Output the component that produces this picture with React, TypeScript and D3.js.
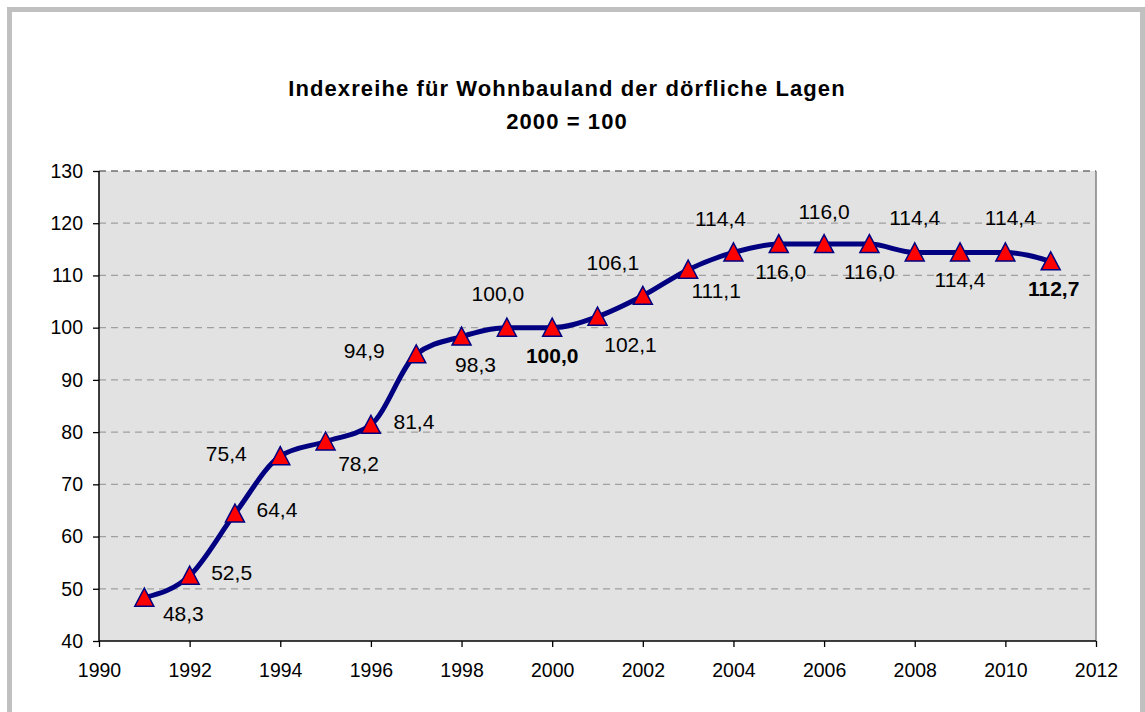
import { useEffect, useRef } from 'react';
import * as d3 from 'd3';

const years = [1991, 1992, 1993, 1994, 1995, 1996, 1997, 1998, 1999, 2000, 2001, 2002, 2003, 2004, 2005, 2006, 2007, 2008, 2009, 2010, 2011];
const indexValues = [48.3, 52.5, 64.4, 75.4, 78.2, 81.4, 94.9, 98.3, 100.0, 100.0, 102.1, 106.1, 111.1, 114.4, 116.0, 116.0, 116.0, 114.4, 114.4, 114.4, 112.7];
const boldLabels = [2000, 2011];
const xTicks = [1990, 1992, 1994, 1996, 1998, 2000, 2002, 2004, 2006, 2008, 2010, 2012];
const yTicks = [40, 50, 60, 70, 80, 90, 100, 110, 120, 130];
const titleLines = ['Indexreihe für Wohnbauland der dörfliche Lagen', '2000 = 100'];

// label placement relative to the marker (dx, dy in px), like the manual Excel layout
const labelOffsets: [number, number][] = [
  [39, 16], [42, -3], [42, -4], [-54, -3], [33, 22], [43, -3], [-52, -4], [14, 28], [-9, -34], [0, 28],
  [33, 28], [-30, -33], [28, 21], [-13, -34], [2, 27], [0, -33], [0, 27], [0, -35], [0, 27], [5, -35], [3, 27],
];

const fmt = (v: number) => v.toFixed(1).replace('.', ',');

export default function App() {
  const ref = useRef<SVGSVGElement>(null);

  useEffect(() => {
    if (!ref.current) return;
    const svg = d3.select(ref.current);
    svg.selectAll('*').remove();

    const width = 1145;
    const height = 712;
    const margin = { top: 171, right: 49, bottom: 71, left: 99 };
    const innerWidth = width - margin.left - margin.right;
    const innerHeight = height - margin.top - margin.bottom;
    const font = '"Liberation Sans", Arial, sans-serif';

    svg.append('rect').attr('width', width).attr('height', height).attr('fill', '#fff');
    svg.append('rect')
      .attr('x', 9.5).attr('y', 9.5)
      .attr('width', 1133).attr('height', 720)
      .attr('fill', 'none').attr('stroke', '#c0c0c0').attr('stroke-width', 5);

    // title
    svg.append('g').selectAll('text')
      .data(titleLines)
      .enter()
      .append('text')
      .attr('x', 567)
      .attr('y', (d, i) => 96 + i * 33)
      .attr('text-anchor', 'middle')
      .attr('font-family', font)
      .attr('font-weight', 'bold')
      .attr('font-size', 22)
      .attr('letter-spacing', 1.1)
      .attr('fill', '#000')
      .text(d => d);

    const x = d3.scaleLinear().domain([1990, 2012]).range([0, innerWidth]);
    const y = d3.scaleLinear().domain([40, 130]).range([innerHeight, 0]);

    const g = svg.append('g').attr('transform', `translate(${margin.left},${margin.top})`);

    g.append('rect').attr('width', innerWidth).attr('height', innerHeight).attr('fill', '#e2e2e2');
    g.append('line')
      .attr('x1', innerWidth).attr('x2', innerWidth)
      .attr('y1', 0).attr('y2', innerHeight)
      .attr('stroke', '#808080').attr('stroke-width', 1.5);

    // grid lines
    g.selectAll('.grid')
      .data(yTicks.filter(t => t > 40))
      .enter()
      .append('line')
      .attr('x1', 0).attr('x2', innerWidth)
      .attr('y1', d => y(d)).attr('y2', d => y(d))
      .attr('stroke', d => (d === 130 ? '#707070' : '#a0a0a0'))
      .attr('stroke-width', 1.3)
      .attr('stroke-dasharray', '7,5');

    // axes
    const yAxis = g.append('g')
      .call(d3.axisLeft(y).tickValues(yTicks).tickSize(6).tickPadding(10).tickFormat(d => `${d}`));
    const xAxis = g.append('g')
      .attr('transform', `translate(0,${innerHeight})`)
      .call(d3.axisBottom(x).tickValues(xTicks).tickSize(6).tickPadding(16).tickFormat(d => `${d}`));
    [yAxis, xAxis].forEach(a => {
      a.select('.domain').attr('stroke', '#000').attr('stroke-width', 1.5);
      a.selectAll('.tick line').attr('stroke', '#000').attr('stroke-width', 1.3);
      a.selectAll('.tick text')
        .attr('font-family', font)
        .attr('font-size', 19.5)
        .attr('fill', '#000');
    });
    xAxis.select('.domain').attr('d', `M0,0H${innerWidth}`);
    yAxis.select('.domain').attr('d', `M0,${innerHeight}V0`);

    const data = years.map((yr, i) => ({ year: yr, value: indexValues[i], off: labelOffsets[i] }));

    const line = d3.line<any>()
      .x(d => x(d.year))
      .y(d => y(d.value))
      .curve(d3.curveMonotoneX);

    g.append('path')
      .datum(data)
      .attr('fill', 'none')
      .attr('stroke', '#000080')
      .attr('stroke-width', 5)
      .attr('stroke-linejoin', 'round')
      .attr('d', line);

    // triangle markers
    g.selectAll('.marker')
      .data(data)
      .enter()
      .append('path')
      .attr('transform', d => `translate(${x(d.year)},${y(d.value)})`)
      .attr('d', 'M0,-9.5L9.5,8.5L-9.5,8.5Z')
      .attr('fill', '#ff0000')
      .attr('stroke', '#000080')
      .attr('stroke-width', 1.5)
      .attr('stroke-linejoin', 'miter');

    // data labels
    g.selectAll('.label')
      .data(data)
      .enter()
      .append('text')
      .attr('x', d => x(d.year) + d.off[0])
      .attr('y', d => y(d.value) + d.off[1])
      .attr('dy', '0.36em')
      .attr('text-anchor', 'middle')
      .attr('font-family', font)
      .attr('font-size', 21)
      .attr('font-weight', d => (boldLabels.includes(d.year) ? 'bold' : 'normal'))
      .attr('fill', '#000')
      .text(d => fmt(d.value));
  }, []);

  return (
    <svg
      ref={ref}
      width={1145}
      height={712}
      style={{ position: 'fixed', left: 0, top: 0, display: 'block' }}
    />
  );
}
